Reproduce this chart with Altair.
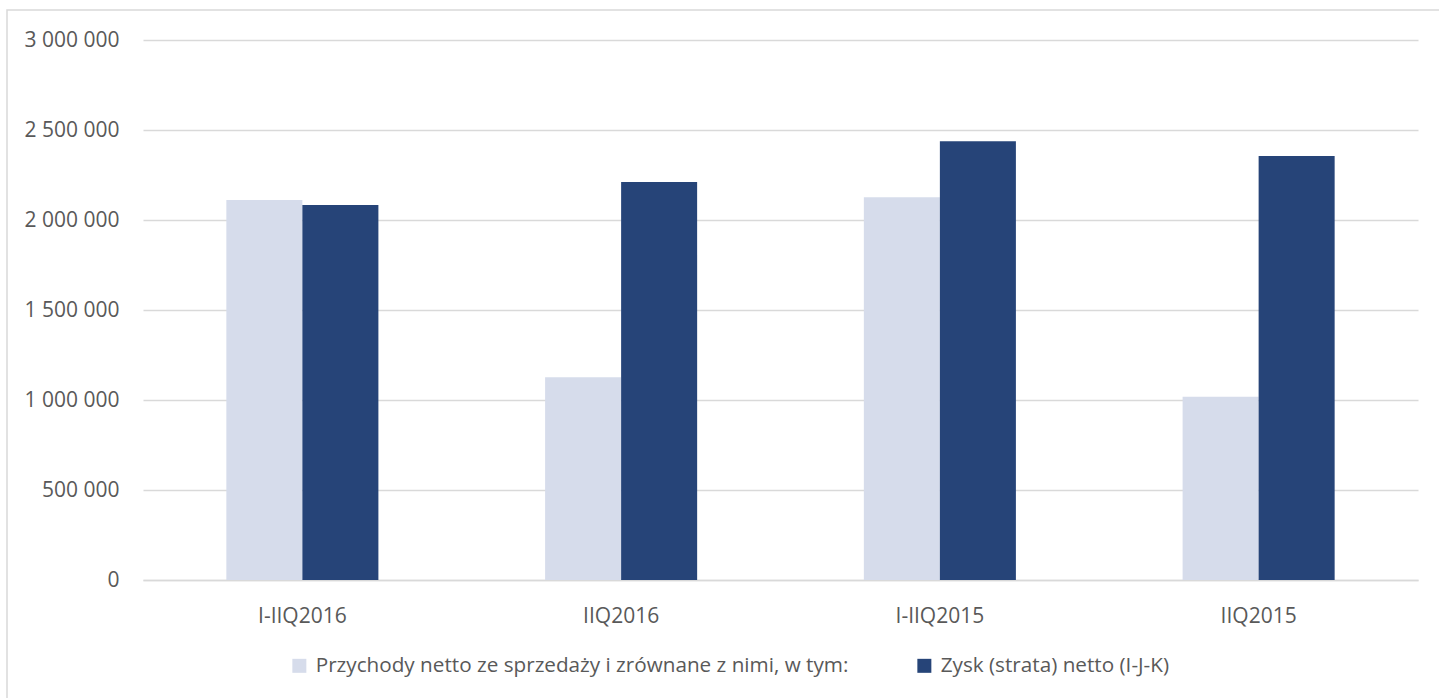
import altair as alt
import pandas as pd

categories = ["I-IIQ2016", "IIQ2016", "I-IIQ2015", "IIQ2015"]
series_names = [
    "Przychody netto ze sprzedaży i zrównane z nimi, w tym:",
    "Zysk (strata) netto (I-J-K)",
]
revenue = [2111000, 1126000, 2126000, 1018000]
profit = [2083000, 2211000, 2437000, 2355000]
colors = ["#D6DCEB", "#264478"]

rows = []
for c, r, p in zip(categories, revenue, profit):
    rows.append({"cat": c, "series": series_names[0], "value": r})
    rows.append({"cat": c, "series": series_names[1], "value": p})
df = pd.DataFrame(rows)

FONT = "Open Sans"
TXT = "#595959"
W, H = 1275, 540

bars = alt.Chart(df).mark_bar().encode(
    x=alt.X("cat:N", sort=categories, title=None,
            scale=alt.Scale(paddingInner=0.523, paddingOuter=0.2615),
            axis=alt.Axis(labelAngle=0, ticks=False, domain=True, domainColor="#D9D9D9",
                          domainWidth=1.5, labelPadding=25, labelFontSize=21,
                          labelFont=FONT, labelColor=TXT, grid=False)),
    xOffset=alt.XOffset("series:N", sort=series_names,
                        scale=alt.Scale(paddingInner=0, paddingOuter=0)),
    y=alt.Y("value:Q", title=None,
            scale=alt.Scale(domain=[0, 3000000], nice=False),
            axis=alt.Axis(values=[0, 500000, 1000000, 1500000, 2000000, 2500000, 3000000],
                          labelExpr="replace(format(datum.value, ','), regexp(',', 'g'), ' ')",
                          ticks=False, domain=False, labelPadding=24,
                          labelFontSize=21, labelFont=FONT, labelColor=TXT,
                          gridColor="#D9D9D9", gridWidth=1.5)),
    color=alt.Color("series:N", sort=series_names,
                    scale=alt.Scale(domain=series_names, range=colors),
                    legend=alt.Legend(title=None, orient="none", legendX=146, legendY=615,
                                      direction="horizontal", symbolType="square",
                                      symbolSize=196, symbolStrokeWidth=0,
                                      labelFontSize=20.7, labelFont=FONT, labelColor=TXT,
                                      labelLimit=2000, labelOffset=6, columnPadding=65,
                                      padding=0)),
)

frame = alt.Chart(pd.DataFrame({"k": [0]})).mark_rect(
    fill=None, stroke="#D9D9D9", strokeWidth=1.5
).encode(
    x=alt.value(-136), x2=alt.value(W + 40), y=alt.value(-30), y2=alt.value(H + 140)
)

chart = alt.layer(frame, bars).properties(
    width=W, height=H,
    autosize=alt.AutoSizeParams(type="none"),
    padding={"left": 143, "top": 40, "right": 21, "bottom": 118},
).configure_view(strokeWidth=0)

chart.save("out.html", embed_options={"renderer": "svg", "actions": False})
